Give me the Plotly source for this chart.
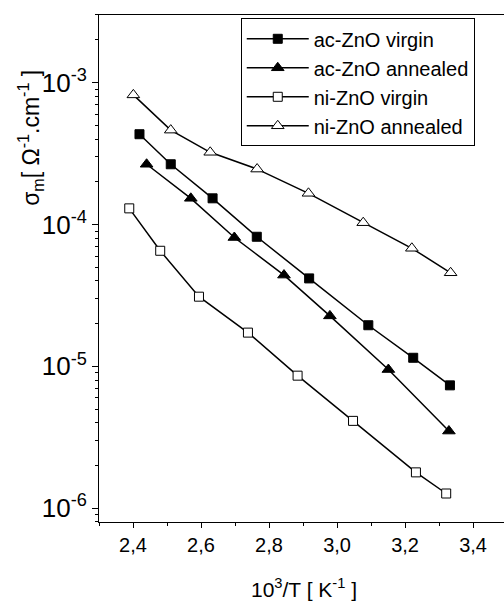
import plotly.graph_objects as go

# Data (x = 10^3/T in K^-1, y = sigma_m in Ohm^-1 cm^-1)
ac_virgin_x = [2.419, 2.511, 2.634, 2.764, 2.918, 3.092, 3.224, 3.332]
ac_virgin_y = [4.33e-4, 2.66e-4, 1.53e-4, 8.2e-5, 4.17e-5, 1.95e-5, 1.15e-5, 7.35e-6]

ac_annealed_x = [2.440, 2.570, 2.698, 2.844, 2.979, 3.151, 3.329]
ac_annealed_y = [2.66e-4, 1.53e-4, 8.1e-5, 4.4e-5, 2.27e-5, 9.5e-6, 3.5e-6]

ni_virgin_x = [2.389, 2.480, 2.594, 2.738, 2.884, 3.047, 3.232, 3.321]
ni_virgin_y = [1.3e-4, 6.53e-5, 3.1e-5, 1.73e-5, 8.6e-6, 4.13e-6, 1.79e-6, 1.27e-6]

ni_annealed_x = [2.401, 2.511, 2.627, 2.765, 2.916, 3.077, 3.220, 3.334]
ni_annealed_y = [8.2e-4, 4.63e-4, 3.23e-4, 2.46e-4, 1.66e-4, 1.03e-4, 6.8e-5, 4.57e-5]

series_names = ["ac-ZnO virgin", "ac-ZnO annealed", "ni-ZnO virgin", "ni-ZnO annealed"]

y_tickvals = [1e-6, 1e-5, 1e-4, 1e-3]
y_ticktext = ["10<sup>-6</sup>", "10<sup>-5</sup>", "10<sup>-4</sup>", "10<sup>-3</sup>"]
y_minor_vals = [m * 10.0 ** e for e in (-7, -6, -5, -4, -3) for m in range(2, 10)]

FONT = "Liberation Sans, Arial, sans-serif"

fig = go.Figure()

styles = [
    (ac_virgin_x, ac_virgin_y, "square", "black", 9),
    (ac_annealed_x, ac_annealed_y, "triangle-up", "black", 11),
    (ni_virgin_x, ni_virgin_y, "square", "white", 9),
    (ni_annealed_x, ni_annealed_y, "triangle-up", "white", 11),
]

for name, (xs, ys, sym, fill, sz) in zip(series_names, styles):
    fig.add_trace(go.Scatter(
        x=xs, y=ys, name=name, mode="lines+markers",
        line=dict(color="black", width=1.5),
        marker=dict(symbol=sym, size=sz, color=fill, line=dict(color="black", width=1)),
    ))

fig.update_layout(
    width=504, height=602,
    margin=dict(l=99, r=0, t=15, b=80),
    paper_bgcolor="white", plot_bgcolor="white",
    separators=",.",
    font=dict(family=FONT, color="black"),
    showlegend=True,
    legend=dict(
        x=0.35, y=0.9935, xanchor="left", yanchor="top",
        bordercolor="black", borderwidth=1, bgcolor="white",
        font=dict(family=FONT, size=20, color="black"),
        itemwidth=62, tracegroupgap=0,
    ),
    xaxis=dict(
        range=[2.3, 3.491], dtick=0.2, tick0=2.4, tickformat=".1f",
        showgrid=False, zeroline=False,
        showline=True, linecolor="black", linewidth=1, mirror=True,
        ticks="outside", ticklen=5, tickcolor="black", tickwidth=1,
        tickfont=dict(family=FONT, size=20, color="black"),
        minor=dict(ticks="outside", ticklen=3, tickcolor="black", dtick=0.2, tick0=2.3),
    ),
    yaxis=dict(
        type="log", range=[-6.097, -2.523],
        tickvals=y_tickvals, ticktext=y_ticktext,
        showgrid=False, zeroline=False,
        showline=True, linecolor="black", linewidth=1, mirror=False,
        ticks="outside", ticklen=6, tickcolor="black", tickwidth=1,
        tickfont=dict(family=FONT, size=26, color="black"),
        minor=dict(ticks="outside", ticklen=3, tickcolor="black", tickvals=y_minor_vals),
    ),
    annotations=[
        dict(
            text="σ<sub>m</sub>[ Ω<sup>-1</sup>.cm<sup>-1</sup> ]",
            textangle=-90, xref="paper", yref="paper",
            x=-0.17, y=0.758, xanchor="center", yanchor="middle", showarrow=False,
            font=dict(family=FONT, size=23, color="black"),
        ),
        dict(
            text="10<sup>3</sup>/T [ K<sup>-1</sup> ]",
            xref="paper", yref="paper",
            x=0.506, y=-0.131, xanchor="center", yanchor="middle", showarrow=False,
            font=dict(family=FONT, size=21, color="black"),
        ),
    ],
)

fig.write_html(
    "out.html",
    config={"displayModeBar": False},
    post_script="document.body.style.margin='0';document.body.style.overflow='hidden';",
)
